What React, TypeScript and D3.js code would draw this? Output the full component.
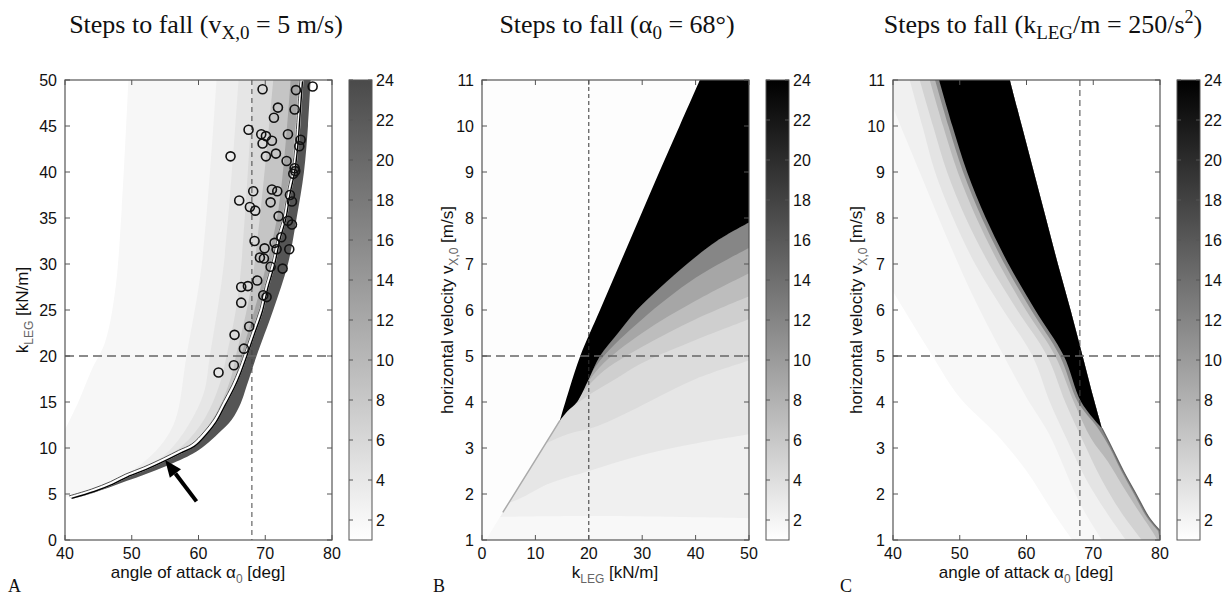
import React from "react";
import * as d3 from "d3";

type Pt = [number, number];

// ---------- panel A: steps to fall for v = 5 m/s ----------
const kneeA: Pt[] = [
  [40.8, 4.65], [44.2, 5.4], [47, 6.2], [49.2, 7.0], [52, 7.8], [55, 8.8], [57.2, 9.6],
  [59.2, 10.3], [61, 11.6], [62.5, 13.0], [63.9, 14.9], [65.2, 16.7], [66.2, 18.4], [67.0, 20],
  [68.2, 22.5], [69.4, 25], [70.2, 27.5], [71.2, 30], [72.1, 33], [72.9, 35], [73.6, 38],
  [74.2, 40], [74.7, 43], [75.0, 46], [75.4, 50],
];
const darkEdgeA: Pt[] = [
  [41, 4.45], [44.2, 5.1], [49.2, 6.4], [55, 8.0], [59.2, 9.4], [61, 10.3], [63, 11.6], [65, 13.1],
  [66.3, 14.8], [67.2, 16.7], [68.7, 20], [71.2, 25], [73.4, 30], [74.7, 35], [75.8, 40], [76.4, 45], [76.8, 50],
];
const bandEdgesA: Pt[][] = [
  [[40, 12], [42, 15], [44, 18.5], [46, 21.5], [47.5, 27], [48.5, 36], [49.5, 50]],
  [[46, 5.9], [50, 7.5], [54, 10], [56.5, 13], [58.2, 20], [60.5, 30], [62.7, 50]],
  [[50, 7.3], [55, 9.3], [58.5, 12.5], [60.8, 16], [61.7, 20], [63.8, 30], [66, 50]],
  [[53, 8.1], [57.5, 10.2], [61, 13.3], [63.2, 17], [64.2, 20], [66, 27], [68.2, 50]],
  [[55.5, 8.9], [59.5, 10.8], [62.5, 13.6], [64.8, 17.5], [65.6, 20], [68, 28], [71.2, 50]],
  [[58, 9.8], [62, 12.6], [65, 16.5], [66.5, 20.3], [69.5, 28], [72, 36], [73.8, 50]],
];
const bandGreysA = ["#f7f7f7", "#efefef", "#e6e6e6", "#dadada", "#c5c5c5", "#a5a5a5"];
const subjectAlpha = [
  69.6, 77.1, 74.6, 71.9, 74.4, 71.3, 67.5, 69.4, 70.1, 69.6, 71.0, 73.4, 75.3, 75.1, 64.8,
  70.1, 71.6, 73.2, 74.4, 74.5, 74.2, 68.2, 71.0, 71.8, 73.7, 66.1, 67.7, 68.5, 70.8, 74.0,
  72.0, 73.4, 74.0, 68.4, 72.4, 71.4, 69.9, 71.7, 73.6, 69.2, 69.8, 70.8, 72.6, 68.8, 66.4,
  67.4, 69.7, 70.2, 66.4, 67.6, 65.4, 66.8, 65.3, 63.0,
];
const subjectK = [
  49.0, 49.3, 48.9, 47.0, 46.8, 45.9, 44.6, 44.1, 43.9, 43.1, 43.4, 44.1, 43.5, 42.8, 41.7,
  41.7, 42.0, 41.2, 40.4, 40.1, 39.8, 37.9, 38.1, 37.9, 37.5, 36.9, 36.2, 35.8, 36.7, 36.8,
  35.2, 34.7, 34.3, 32.5, 32.9, 32.3, 31.7, 31.6, 31.6, 30.7, 30.6, 29.7, 29.5, 28.2, 27.5,
  27.6, 26.6, 26.4, 25.8, 23.2, 22.3, 20.8, 19.0, 18.2,
];
const arrowA: Pt[] = [[59.7, 4.2], [55, 8.7]];

// ---------- panel B: steps to fall for alpha = 68 deg ----------
const diagB: Pt[] = [[0.7, 1], [3.9, 1.6], [9, 2.55], [14.6, 3.6]];
const blackUpperB: Pt[] = [
  [14.6, 3.6], [16.4, 4.3], [18.4, 5], [22.1, 6], [25.8, 7], [29.5, 8], [33.2, 9], [37, 10], [40.8, 11],
];
const blackLowerB: Pt[] = [
  [14.6, 3.6], [16, 3.8], [17.8, 4], [20, 4.5], [22.1, 5], [25.5, 5.5], [29, 6], [33.5, 6.5],
  [38.4, 7], [44, 7.5], [50, 7.9],
];
const bandEdgesB: Pt[][] = [
  [[0.7, 1], [50, 1]],
  [[3.4, 1.5], [20, 1.52], [50, 1.47]],
  [[5, 1.8], [8, 1.95], [12, 2.2], [20, 2.5], [30, 2.85], [40, 3.1], [50, 3.3]],
  [[12, 3.1], [16, 3.3], [21, 3.45], [26, 3.7], [32, 4.05], [40, 4.5], [50, 4.9]],
  [[16, 3.8], [20, 4.15], [25, 4.5], [30, 4.85], [40, 5.35], [50, 5.8]],
  [[16.8, 3.9], [22, 4.6], [30, 5.2], [40, 5.8], [50, 6.3]],
  [[17.2, 3.95], [22, 4.75], [30, 5.5], [40, 6.2], [50, 6.8]],
  [[17.5, 4.0], [22.1, 4.9], [30, 5.8], [40, 6.7], [50, 7.35]],
];
const bandGreysB = ["#f8f8f8", "#f0f0f0", "#e6e6e6", "#dcdcdc", "#cfcfcf", "#bdbdbd", "#a6a6a6", "#868686"];

// ---------- panel C: steps to fall for k/m = 250/s^2 ----------
const blackLeftC: Pt[] = [
  [46.9, 11], [48.9, 10], [51.1, 9], [53.9, 8], [57.3, 7], [61.3, 6], [65.6, 5], [68.2, 4], [71.3, 3.43],
];
const blackRightC: Pt[] = [
  [57.5, 11], [59.3, 10], [61.1, 9], [62.9, 8], [64.7, 7], [66.6, 6], [68.4, 5], [70.2, 4], [71.3, 3.43],
];
const rightEdgeC: Pt[] = [[71.3, 3.43], [72.8, 3], [74.5, 2.5], [76.4, 2], [78.3, 1.5], [80, 1.2]];
const bandEdgesC: Pt[][] = [
  [[40, 6.4], [45.5, 5.1], [50, 4.1], [55.5, 3.3], [60, 2.5], [64, 1.6], [66.9, 1]],
  [[40, 10.4], [44, 9.0], [48, 7.6], [52, 6.3], [56.6, 5], [60, 4.1], [63.4, 3.3], [68, 1.8], [71.3, 1]],
  [[42.5, 11], [44.4, 10], [46.3, 9], [49, 8], [52.3, 7], [56.5, 6], [60.9, 5], [63.5, 4], [66, 3.2], [69, 2.3], [72, 1.6], [74.9, 1]],
  [[44, 11], [46, 10], [48.1, 9], [50.9, 8], [54.4, 7], [58.6, 6], [63.1, 5], [65.8, 4], [68.3, 3.2], [71.3, 2.3], [74.2, 1.6], [77.3, 1]],
  [[45.5, 11], [47.5, 10], [49.7, 9], [52.5, 8], [55.9, 7], [59.9, 6], [64.3, 5], [67.1, 4], [69.7, 3.2], [72.2, 2.7], [74.5, 2.15], [76.7, 1.65], [79, 1.15], [79.6, 1]],
  [[46.3, 11], [48.3, 10], [50.5, 9], [53.3, 8], [56.7, 7], [60.7, 6], [65.0, 5], [67.7, 4], [70.6, 3.45], [72.5, 3.0], [74.2, 2.5], [76.1, 2.0], [78, 1.5], [79.7, 1.2]],
];
const bandGreysC = ["#f8f8f8", "#f0f0f0", "#e4e4e4", "#d2d2d2", "#b8b8b8", "#888888"];

// ---------- ticks ----------
const alphaTicks = [40, 50, 60, 70, 80];
const kTicksA = [0, 5, 10, 15, 20, 25, 30, 35, 40, 45, 50];
const kTicksB = [0, 10, 20, 30, 40, 50];
const vTicks = [1, 2, 3, 4, 5, 6, 7, 8, 9, 10, 11];
const barTicks = [2, 4, 6, 8, 10, 12, 14, 16, 18, 20, 22, 24];

const PW = 267;
const TOP = 80;
const BOTTOM = 540;
const SANS = "Liberation Sans, Arial, sans-serif";
const SERIF = "Liberation Serif, Times New Roman, serif";
const AXIS = "#555";

type Scale = d3.ScaleLinear<number, number>;

const smooth = d3.curveCatmullRom.alpha(0.5);
const open = (pts: Pt[], x: Scale, y: Scale) =>
  d3.line<Pt>().x((d) => x(d[0])).y((d) => y(d[1])).curve(smooth)(pts) || "";
// closed shape from several smooth pieces joined by straight corners
const shape = (segs: Pt[][], x: Scale, y: Scale) =>
  segs
    .filter((s) => s.length > 0)
    .map((s, i) => {
      if (s.length === 1) return `${i === 0 ? "M" : "L"}${x(s[0][0])},${y(s[0][1])}`;
      const d = open(s, x, y).replace(/Z$/, "");
      return i === 0 ? d : "L" + d.slice(1);
    })
    .join("") + "Z";

function Frame({ x, y, xTicks, yTicks }: { x: Scale; y: Scale; xTicks: number[]; yTicks: number[] }) {
  const [x0, x1] = x.range();
  return (
    <g fontFamily={SANS} fontSize={16} fill="#111">
      <rect x={x0} y={TOP} width={x1 - x0} height={BOTTOM - TOP} fill="none" stroke={AXIS} strokeWidth={1.2} />
      {xTicks.map((t) => (
        <g key={"x" + t}>
          <line x1={x(t)} x2={x(t)} y1={BOTTOM} y2={BOTTOM - 5} stroke={AXIS} />
          <line x1={x(t)} x2={x(t)} y1={TOP} y2={TOP + 5} stroke={AXIS} />
          <text x={x(t)} y={BOTTOM + 19} textAnchor="middle">{t}</text>
        </g>
      ))}
      {yTicks.map((t) => (
        <g key={"y" + t}>
          <line x1={x0} x2={x0 + 5} y1={y(t)} y2={y(t)} stroke={AXIS} />
          <line x1={x1} x2={x1 - 5} y1={y(t)} y2={y(t)} stroke={AXIS} />
          <text x={x0 - 8} y={y(t)} dy="0.36em" textAnchor="end">{t}</text>
        </g>
      ))}
    </g>
  );
}

function Colorbar({ left, id, dark }: { left: number; id: string; dark: string }) {
  const s = d3.scaleLinear().domain([1, 24]).range([BOTTOM, TOP]);
  const w = 23;
  return (
    <g fontFamily={SANS} fontSize={16} fill="#111">
      <defs>
        <linearGradient id={id} x1="0" y1="1" x2="0" y2="0">
          <stop offset="0" stopColor="#ffffff" />
          <stop offset="1" stopColor={dark} />
        </linearGradient>
      </defs>
      <rect x={left} y={TOP} width={w} height={BOTTOM - TOP} fill={`url(#${id})`} stroke={AXIS} />
      {barTicks.map((t) => (
        <g key={t}>
          <line x1={left} x2={left + 4} y1={s(t)} y2={s(t)} stroke={AXIS} />
          <line x1={left + w} x2={left + w - 4} y1={s(t)} y2={s(t)} stroke={AXIS} />
          <text x={left + w + 4} y={s(t)} dy="0.36em">{t}</text>
        </g>
      ))}
    </g>
  );
}

function PanelA() {
  const left = 65;
  const x = d3.scaleLinear().domain([40, 80]).range([left, left + PW]);
  const y = d3.scaleLinear().domain([0, 50]).range([BOTTOM, TOP]);
  const kneeRev = [...kneeA].reverse();
  const bands = bandEdgesA.map((edge) => {
    const s = edge[0];
    const segs: Pt[][] = s[0] <= 40
      ? [edge, kneeRev, [[40, kneeA[0][1]]]]
      : [edge, kneeRev.filter((p) => p[1] > s[1])];
    return shape(segs, x, y);
  });
  const darkBand = shape([kneeA, [...darkEdgeA].reverse()], x, y);
  const [tx, ty] = [x(arrowA[0][0]), y(arrowA[0][1])];
  const [hx, hy] = [x(arrowA[1][0]), y(arrowA[1][1])];
  const len = Math.hypot(hx - tx, hy - ty);
  const ux = (hx - tx) / len, uy = (hy - ty) / len;
  const bx = hx - ux * 17, by = hy - uy * 17;
  const head = `M${hx},${hy}L${bx - uy * 7},${by + ux * 7}L${bx + uy * 7},${by - ux * 7}Z`;
  return (
    <g>
      <clipPath id="clipA"><rect x={left} y={TOP} width={PW} height={BOTTOM - TOP} /></clipPath>
      <g clipPath="url(#clipA)">
        {bands.map((d, i) => <path key={i} d={d} fill={bandGreysA[i]} />)}
        <path d={darkBand} fill="#555" />
        <line x1={x(68)} x2={x(68)} y1={TOP} y2={BOTTOM} stroke="#444" strokeDasharray="5,4" />
        <line x1={left} x2={left + PW} y1={y(20)} y2={y(20)} stroke="#666" strokeWidth={1.3} strokeDasharray="9,5" />
        <path d={open(kneeA, x, y)} fill="none" stroke="#fff" strokeWidth={4.5} />
        <path d={open(kneeA, x, y)} fill="none" stroke="#222" strokeWidth={0.8} transform="translate(-1.3,-1.3)" />
        <path d={open(kneeA, x, y)} fill="none" stroke="#000" strokeWidth={1.4} transform="translate(1.2,1.2)" />
        {subjectAlpha.map((a, i) => (
          <circle key={i} cx={x(a)} cy={y(subjectK[i])} r={4.5} fill="none" stroke="#111" strokeWidth={1.6} />
        ))}
        <line x1={tx} y1={ty} x2={bx} y2={by} stroke="#000" strokeWidth={4} />
        <path d={head} fill="#000" />
      </g>
      <Frame x={x} y={y} xTicks={alphaTicks} yTicks={kTicksA} />
    </g>
  );
}

function PanelB() {
  const left = 482;
  const x = d3.scaleLinear().domain([0, 50]).range([left, left + PW]);
  const y = d3.scaleLinear().domain([1, 11]).range([BOTTOM, TOP]);
  const lowerRev = [...blackLowerB].reverse();
  const diagRev = [...diagB].reverse();
  const tip = diagB[diagB.length - 1];
  const bands = bandEdgesB.map((edge) => {
    const s = edge[0];
    const segs: Pt[][] = s[0] < tip[0]
      ? [edge, lowerRev, diagRev.filter((p) => p[1] > s[1])]
      : [edge, lowerRev.filter((p) => p[0] > s[0])];
    return shape(segs, x, y);
  });
  const black = shape([blackUpperB, [[50, 11]], lowerRev], x, y);
  return (
    <g>
      <clipPath id="clipB"><rect x={left} y={TOP} width={PW} height={BOTTOM - TOP} /></clipPath>
      <g clipPath="url(#clipB)">
        <rect x={left} y={TOP} width={PW} height={BOTTOM - TOP} fill="#fdfdfd" />
        {bands.map((d, i) => <path key={i} d={d} fill={bandGreysB[i]} />)}
        <path d={open(diagB.slice(1), x, y)} fill="none" stroke="#aaa" strokeWidth={1.5} />
        <path d={black} fill="#000" />
        <line x1={x(20)} x2={x(20)} y1={TOP} y2={BOTTOM} stroke="#333" strokeDasharray="4,3" />
        <line x1={left} x2={left + PW} y1={y(5)} y2={y(5)} stroke="#666" strokeWidth={1.3} strokeDasharray="9,5" />
      </g>
      <Frame x={x} y={y} xTicks={kTicksB} yTicks={vTicks} />
    </g>
  );
}

function PanelC() {
  const left = 893;
  const x = d3.scaleLinear().domain([40, 80]).range([left, left + PW]);
  const y = d3.scaleLinear().domain([1, 11]).range([BOTTOM, TOP]);
  const edgeRev = [...rightEdgeC].reverse();
  const rightRev = [...blackRightC].reverse();
  const bands = bandEdgesC.map((edge) => {
    const segs: Pt[][] = [edge, [[80, 1]], edgeRev, rightRev];
    if (edge[0][0] <= 40) segs.push([[40, 11]]);
    return shape(segs, x, y);
  });
  const black = shape([blackLeftC, rightRev], x, y);
  return (
    <g>
      <clipPath id="clipC"><rect x={left} y={TOP} width={PW} height={BOTTOM - TOP} /></clipPath>
      <g clipPath="url(#clipC)">
        {bands.map((d, i) => <path key={i} d={d} fill={bandGreysC[i]} />)}
        <path d={open(rightEdgeC, x, y)} fill="none" stroke="#666" strokeWidth={1.3} />
        <path d={black} fill="#000" />
        <line x1={x(68)} x2={x(68)} y1={TOP} y2={BOTTOM} stroke="#444" strokeDasharray="6,4" />
        <line x1={left} x2={left + PW} y1={y(5)} y2={y(5)} stroke="#666" strokeWidth={1.3} strokeDasharray="9,5" />
      </g>
      <Frame x={x} y={y} xTicks={alphaTicks} yTicks={vTicks} />
    </g>
  );
}

export default function App() {
  return (
    <svg width={1228} height={596} style={{ position: "absolute", left: 0, top: 0, background: "#fff" }}>
      <rect width={1228} height={596} fill="#fff" />
      <g fontFamily={SERIF} fontSize={26} fill="#111" textAnchor="middle">
        <text x={206} y={33}>
          Steps to fall (v<tspan dy={6} fontSize={19}>X,0</tspan><tspan dy={-6}> = 5 m/s)</tspan>
        </text>
        <text x={617} y={33}>
          Steps to fall (α<tspan dy={6} fontSize={19}>0</tspan><tspan dy={-6}> = 68°)</tspan>
        </text>
        <text x={1043} y={33}>
          Steps to fall (k<tspan dy={6} fontSize={19}>LEG</tspan><tspan dy={-6}>/m = 250/s</tspan>
          <tspan dy={-10} fontSize={18}>2</tspan><tspan dy={10}>)</tspan>
        </text>
      </g>
      <PanelA />
      <PanelB />
      <PanelC />
      <Colorbar left={349} id="cbA" dark="#4a4a4a" />
      <Colorbar left={766} id="cbB" dark="#000" />
      <Colorbar left={1177} id="cbC" dark="#000" />
      <g fontFamily={SANS} fontSize={17} fill="#111" textAnchor="middle">
        <text x={198} y={578}>
          angle of attack α<tspan dy={5} fontSize={12} fill="#666">0</tspan><tspan dy={-5}> [deg]</tspan>
        </text>
        <text x={615} y={578}>
          k<tspan dy={5} fontSize={12} fill="#666">LEG</tspan><tspan dy={-5}> [kN/m]</tspan>
        </text>
        <text x={1026} y={578}>
          angle of attack α<tspan dy={5} fontSize={12} fill="#666">0</tspan><tspan dy={-5}> [deg]</tspan>
        </text>
        <text transform="translate(28,310) rotate(-90)">
          k<tspan dy={5} fontSize={12} fill="#666">LEG</tspan><tspan dy={-5}> [kN/m]</tspan>
        </text>
        <text transform="translate(453,310) rotate(-90)">
          horizontal velocity v<tspan dy={5} fontSize={12} fill="#666">X,0</tspan><tspan dy={-5}> [m/s]</tspan>
        </text>
        <text transform="translate(862,310) rotate(-90)">
          horizontal velocity v<tspan dy={5} fontSize={12} fill="#666">X,0</tspan><tspan dy={-5}> [m/s]</tspan>
        </text>
      </g>
      <g fontFamily={SERIF} fontSize={18} fill="#111">
        <text x={8} y={592}>A</text>
        <text x={433} y={592}>B</text>
        <text x={840} y={592}>C</text>
      </g>
    </svg>
  );
}
